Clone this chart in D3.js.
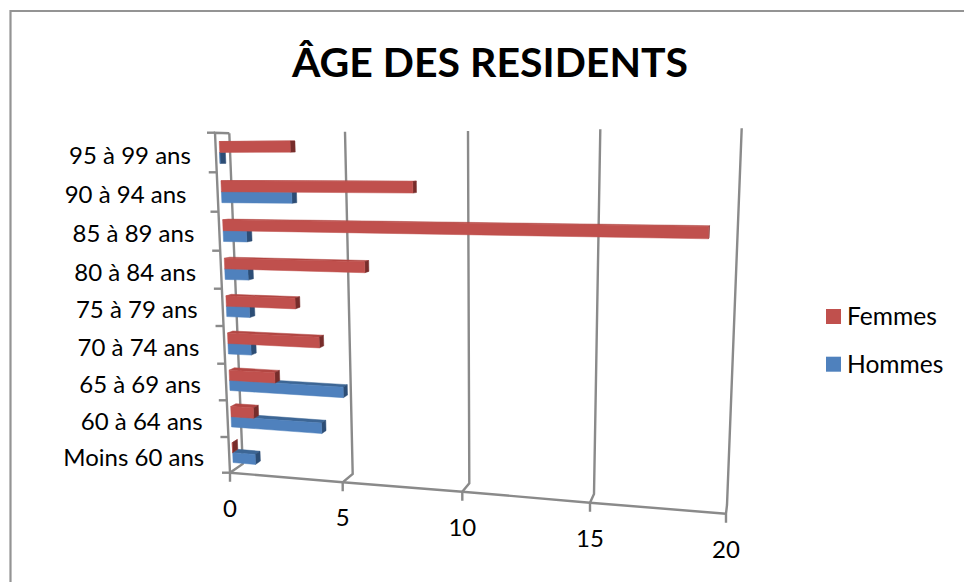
<!DOCTYPE html>
<html>
<head>
<meta charset="utf-8">
<script src="https://cdn.jsdelivr.net/npm/d3@7/dist/d3.min.js"></script>
<style>
  body { margin: 0; background: #fff; }
  svg { display: block; }
  text { font-family: Lato, "Open Sans", sans-serif; fill: #000; white-space: pre; }
</style>
</head>
<body>
<script>
var categories = ["Moins 60 ans", "60 à 64 ans", "65 à 69 ans", "70 à 74 ans", "75 à 79 ans", "80 à 84 ans", "85 à 89 ans", "90 à 94 ans ", "95 à 99 ans"];
var femmes = [0, 1, 2, 4, 3, 6, 19, 8, 3];
var hommes = [1, 4, 5, 1, 1, 1, 1, 3, 0];
var valueTicks = [0, 5, 10, 15, 20];

var svgWidth = 964;
var svgHeight = 582;

var svg = d3.select("body").append("svg")
            .attr("width", svgWidth)
            .attr("height", svgHeight);

// the 3d box: one scale per edge, the value axis is not linear on screen
function edge(range) {
    return d3.scaleLinear().domain(valueTicks).range(range);
}
var floorFront = { x: edge([230, 342.7, 462.3, 590, 726]), y: edge([472.7, 482.3, 491.7, 502.7, 513.7]) };
var floorBack = { x: edge([242.7, 352.7, 469.3, 594, 727]), y: edge([464, 474, 483.3, 494, 505]) };
var topFront = { x: edge([215, 334, 460, 596, 740.7]), y: edge([132.7, 131.7, 131, 129.5, 128.3]) };
var topBack = { x: edge([229.3, 345, 468, 600.3, 741.7]), y: edge([133.3, 131.7, 131, 129.3, 128.3]) };

// height of the box, in categories, measured on the left axis
var heightScale = d3.scaleLinear()
    .domain(d3.range(categories.length + 1))
    .range([0, 35.7, 72.4, 109, 146.7, 184, 222, 261, 300.4, 340].map(d => d / 340));

// v = value, h = height in category units, d = depth (0 front, 1 back)
function project(v, h, d) {
    var t = heightScale(h);
    var bx = floorFront.x(v) + (floorBack.x(v) - floorFront.x(v)) * d;
    var by = floorFront.y(v) + (floorBack.y(v) - floorFront.y(v)) * d;
    var tx = topFront.x(v) + (topBack.x(v) - topFront.x(v)) * d;
    var ty = topFront.y(v) + (topBack.y(v) - topFront.y(v)) * d;
    return [bx + (tx - bx) * t, by + (ty - by) * t];
}

var line = d3.line();

// chart frame, its right and bottom sides are outside the picture
svg.append("path")
   .attr("d", line([[10.5, svgHeight], [10.5, 11], [svgWidth, 11]]))
   .attr("fill", "none")
   .attr("stroke", "#949494")
   .attr("stroke-width", 2.2);

svg.append("text")
   .attr("x", 490).attr("y", 77)
   .attr("text-anchor", "middle")
   .attr("font-size", 41)
   .attr("font-weight", 700)
   .text("ÂGE DES RESIDENTS");

var grid = svg.append("g")
              .attr("fill", "none")
              .attr("stroke", "#8a8a8a")
              .attr("stroke-width", 2.4);

// walls
valueTicks.forEach(function(v) {
    grid.append("path").attr("d", line([
        [topBack.x(v), topBack.y(v)],
        [floorBack.x(v), floorBack.y(v)],
        [floorFront.x(v), floorFront.y(v)],
        [floorFront.x(v), floorFront.y(v) + 9]
    ]));
});

// left side of the box + front floor edge
grid.append("path").attr("d", line([
    [topBack.x(0), topBack.y(0)],
    [topFront.x(0), topFront.y(0)],
    [floorFront.x(0), floorFront.y(0)]
]));
grid.append("path").attr("d", line(valueTicks.map(v => [floorFront.x(v), floorFront.y(v)])));

// category ticks
d3.range(categories.length + 1).forEach(function(h) {
    var p = project(0, h, 0);
    grid.append("path").attr("d", line([[p[0] - 8, p[1]], p]));
});

// bars
var barColors = {
    Femmes: { front: "#c0504d", top: "#b24643", cap: "#772c2a" },
    Hommes: { front: "#4f81bd", top: "#3d6695", cap: "#2c4d75" }
};
var depthFront = 0.27;
var depthBack = 0.67;
var rowHeight = 0.28;
var rowStart = 0.22;

function drawBar(g, v, h0, h1, c) {
    // top face
    g.append("path").attr("fill", c.top).attr("stroke", c.top).attr("stroke-width", 0.5).attr("d", line([
        project(0, h1, depthFront), project(v, h1, depthFront),
        project(v, h1, depthBack), project(0, h1, depthBack)
    ]) + "Z");
    // end cap
    g.append("path").attr("fill", c.cap).attr("stroke", c.cap).attr("stroke-width", 0.5).attr("d", line([
        project(v, h0, depthFront), project(v, h1, depthFront),
        project(v, h1, depthBack), project(v, h0, depthBack)
    ]) + "Z");
    // front
    g.append("path").attr("fill", c.front).attr("stroke", c.front).attr("stroke-width", 0.5).attr("d", line([
        project(0, h0, depthFront), project(v, h0, depthFront),
        project(v, h1, depthFront), project(0, h1, depthFront)
    ]) + "Z");
}

var bars = svg.append("g");
// from the top row down so the lower bars sit in front
d3.range(categories.length - 1, -1, -1).forEach(function(i) {
    var g = bars.append("g");
    drawBar(g, hommes[i], i + rowStart, i + rowStart + rowHeight, barColors.Hommes);
    drawBar(g, femmes[i], i + rowStart + rowHeight, i + rowStart + 2 * rowHeight, barColors.Femmes);
});

// category labels
svg.append("g").selectAll("text").data(categories).enter()
   .append("text")
   .attr("x", (d, i) => project(0, i + 0.5, 0)[0] - 25)
   .attr("y", (d, i) => project(0, i + 0.5, 0)[1] + 11)
   .attr("text-anchor", "end")
   .attr("font-size", 24)
   .text(d => d);

// value labels
svg.append("g").selectAll("text").data(valueTicks).enter()
   .append("text")
   .attr("x", d => floorFront.x(d))
   .attr("y", d => floorFront.y(d) + 44)
   .attr("text-anchor", "middle")
   .attr("font-size", 24)
   .text(d => d);

// legend
var legendItems = ["Femmes", "Hommes"];
var legend = svg.append("g").selectAll("g").data(legendItems).enter()
   .append("g")
   .attr("transform", (d, i) => `translate(826, ${309 + i * 47.7})`);
legend.append("rect")
   .attr("width", 15).attr("height", 15)
   .attr("fill", d => barColors[d].front);
legend.append("text")
   .attr("x", 21).attr("y", 16)
   .attr("font-size", 24.6)
   .text(d => d);
</script>
</body>
</html>
